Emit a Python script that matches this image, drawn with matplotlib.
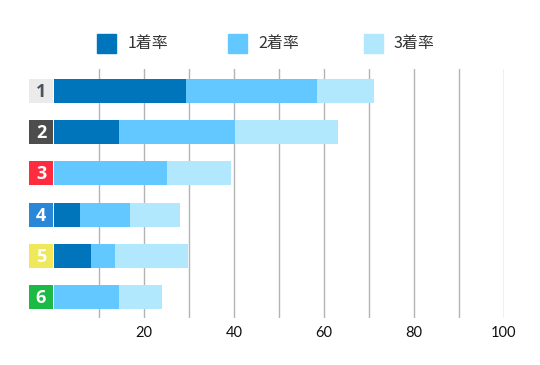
import matplotlib
matplotlib.use("Agg")
import matplotlib.pyplot as plt
from matplotlib.patches import Rectangle

# data
boats = ["1", "2", "3", "4", "5", "6"]
rate1 = [29.3, 14.4, 0.0, 5.7, 8.2, 0.0]
rate2 = [58.4, 40.1, 25.0, 16.8, 13.5, 14.4]
rate3 = [71.0, 63.0, 39.3, 27.9, 29.7, 24.0]
legend_labels = ["1着率", "2着率", "3着率"]
xticks = [20, 40, 60, 80, 100]

bar_colors = ["#0075bb", "#62c8ff", "#b2e8fe"]
box_colors = ["#ebebeb", "#4d4d4d", "#ff2b3f", "#2a87d8", "#eee85a", "#1db945"]
num_colors = ["#4a5560", "white", "white", "white", "white", "white"]

plt.rcParams['font.family'] = ['Noto Sans CJK JP', 'DejaVu Sans']

W, H = 540, 365
fig = plt.figure(figsize=(W / 100, H / 100), dpi=100)
ax = fig.add_axes([54.3 / W, 1 - 318 / H, (504 - 54.3) / W, (318 - 69) / H])

ypos = list(range(len(boats)))
h = 0.58
# cumulative values, draw back to front
ax.barh(ypos, rate3, height=h, color=bar_colors[2], zorder=3)
ax.barh(ypos, rate2, height=h, color=bar_colors[1], zorder=4)
ax.barh(ypos, rate1, height=h, color=bar_colors[0], zorder=5)

# boat number boxes on the left
ax.barh(ypos, [5.33] * 6, left=-5.62, height=h, color=box_colors, clip_on=False, zorder=5)
for y, b, c in zip(ypos, boats, num_colors):
    ax.text(-2.95, y + 0.02, b, ha="center", va="center", color=c, fontsize=13,
            fontweight="bold", family="Open Sans", clip_on=False, zorder=6)

ax.set_xlim(0, 100)
ax.set_ylim(5.5, -0.53)
ax.set_xticks(range(10, 101, 10), minor=False)
ax.set_xticklabels(["" if v not in xticks else str(v) for v in range(10, 101, 10)],
                   fontsize=10.5, color="#111111", family="Lato")
ax.tick_params(axis="x", length=0, pad=6)
ax.set_yticks([])
ax.grid(axis="x", color="#b3b3b3", linewidth=1, zorder=0)
for s in ax.spines.values():
    s.set_visible(False)

# legend drawn by hand across the top
sq_x = [96.7, 227.7, 364]
txt_x = [128, 258, 393]
for x0, tx, c, lab in zip(sq_x, txt_x, bar_colors, legend_labels):
    fig.add_artist(Rectangle((x0 / W, 1 - 53 / H), 19 / W, 19 / H,
                             transform=fig.transFigure, color=c))
    fig.text(tx / W, 1 - 43.5 / H, lab, ha="left", va="center",
             fontsize=11.5, color="#333333")

fig.savefig("out.png", dpi=100)
